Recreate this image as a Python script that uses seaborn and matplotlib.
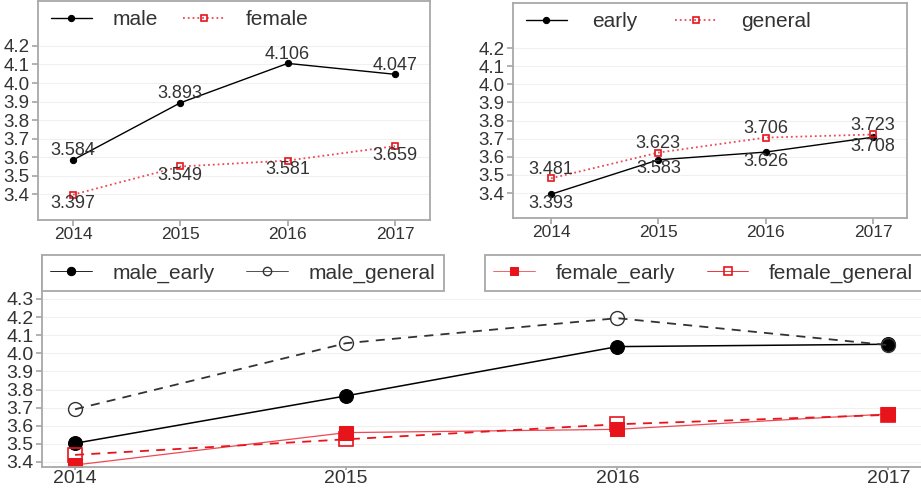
import matplotlib
matplotlib.use("Agg")
import matplotlib.pyplot as plt
import seaborn as sns
import copy

sns.set_theme(style="white")
plt.rcParams['font.family'] = ['Liberation Sans', 'DejaVu Sans']

years = [2014, 2015, 2016, 2017]
male = [3.584, 3.893, 4.106, 4.047]
female = [3.397, 3.549, 3.581, 3.659]
early = [3.393, 3.583, 3.626, 3.708]
general = [3.481, 3.623, 3.706, 3.723]
male_early = [3.503, 3.765, 4.037, 4.050]
male_general = [3.691, 4.056, 4.194, 4.045]
female_early = [3.383, 3.562, 3.580, 3.665]
female_general = [3.439, 3.525, 3.608, 3.660]
top_yticks = [3.4, 3.5, 3.6, 3.7, 3.8, 3.9, 4.0, 4.1, 4.2]
bot_yticks = [3.4, 3.5, 3.6, 3.7, 3.8, 3.9, 4.0, 4.1, 4.2, 4.3]

RED = '#e8141c'
RED_LINE = '#ec4a55'
GRAY = '#a8a8a8'
TXT = '#333333'

fig = plt.figure(figsize=(9.21, 4.93), dpi=100)
ax1 = fig.add_axes([38/921, 1-220/493, 392/921, 219/493])
ax2 = fig.add_axes([513/921, 1-218/493, 394/921, 215/493])
ax3 = fig.add_axes([42/921, 1-467/493, 879/921, 212/493])


def style_axes(ax, xlim, ylim, yticks, xfs, yfs, xlen, xpad, right_spine=True):
    ax.set_xlim(*xlim)
    ax.set_ylim(*ylim)
    ax.set_xticks(years)
    ax.set_xticklabels([str(y) for y in years], fontsize=xfs, color=TXT)
    ax.set_yticks(yticks)
    ax.set_yticklabels([f"{v:.1f}" for v in yticks], fontsize=yfs, color=TXT)
    ax.grid(axis='y', color='#f0f0f0', linewidth=0.8)
    ax.grid(axis='x', visible=False)
    for s in ax.spines.values():
        s.set_color(GRAY)
        s.set_linewidth(1.3)
    if not right_spine:
        ax.spines['right'].set_visible(False)
        ax.spines['top'].set_visible(False)
    ax.tick_params(axis='y', direction='out', length=4, color=GRAY, pad=2, left=True)
    ax.tick_params(axis='x', direction='out', length=xlen, color=GRAY, pad=xpad, bottom=True)
    ax.set_xlabel('')
    ax.set_ylabel('')


def label_points(ax, vals, above):
    for x, v in zip(years, vals):
        ax.annotate(f"{v:.3f}", (x, v), xytext=(0, 6.5 if above else -6.5),
                    textcoords='offset points', ha='center', va='center',
                    fontsize=13, color=TXT)


# ---- top-left
sns.lineplot(x=years, y=male, ax=ax1, color='black', linewidth=1.0, marker='o',
             markersize=4.5, markeredgecolor='black', label='male')
sns.lineplot(x=years, y=female, ax=ax1, color=RED_LINE, linewidth=1.3, linestyle=':',
             marker='s', markersize=4.5, markerfacecolor='none', markeredgecolor=RED,
             markeredgewidth=1.2, label='female')
label_points(ax1, male, True)
label_points(ax1, female, False)
style_axes(ax1, (2013.674, 2017.326), (3.26, 4.443), top_yticks, 12.5, 13.5, 4, 1)
ax1.legend(loc='upper left', bbox_to_anchor=(0.0, 1.015), ncol=2, frameon=False,
           fontsize=15, handlelength=2.0, handletextpad=1.0, columnspacing=1.2,
           borderaxespad=0.2, labelcolor=TXT)

# ---- top-right
sns.lineplot(x=years, y=early, ax=ax2, color='black', linewidth=1.0, marker='o',
             markersize=4.5, markeredgecolor='black', label='early')
sns.lineplot(x=years, y=general, ax=ax2, color=RED_LINE, linewidth=1.3, linestyle=':',
             marker='s', markersize=4.5, markerfacecolor='none', markeredgecolor=RED,
             markeredgewidth=1.2, label='general')
label_points(ax2, general, True)
label_points(ax2, early, False)
style_axes(ax2, (2013.646, 2017.317), (3.262, 4.449), top_yticks, 12.5, 13.5, 4, 1)
ax2.legend(loc='upper left', bbox_to_anchor=(0.0, 1.015), ncol=2, frameon=False,
           fontsize=15, handlelength=2.0, handletextpad=1.2, columnspacing=1.8,
           borderaxespad=0.2, labelcolor=TXT)

# ---- bottom
sns.lineplot(x=years, y=male_early, ax=ax3, color='black', linewidth=1.1, marker='o',
             markersize=10, markeredgecolor='black', label='male_early')
sns.lineplot(x=years, y=male_general, ax=ax3, color='#333333', linewidth=1.3,
             linestyle=(0, (5, 4)), marker='o', markersize=10, markerfacecolor='none',
             markeredgecolor='#333333', markeredgewidth=1.0, label='male_general')
sns.lineplot(x=years, y=female_early, ax=ax3, color=RED_LINE, linewidth=0.9, marker='s',
             markersize=10, markerfacecolor=RED, markeredgecolor=RED, label='female_early')
sns.lineplot(x=years, y=female_general, ax=ax3, color=RED, linewidth=1.3,
             linestyle=(0, (5, 4)), marker='s', markersize=10, markerfacecolor='none',
             markeredgecolor=RED, markeredgewidth=1.2, label='female_general')
style_axes(ax3, (2013.878, 2017.12), (3.372, 4.543), bot_yticks, 14, 14, 2, 0,
           right_spine=False)
handles, labels = ax3.get_legend_handles_labels()
ax3.get_legend().remove()


def small(h, ms):
    h2 = copy.copy(h)
    h2.set_markersize(ms)
    h2.set_linestyle('-')
    h2.set_linewidth(0.6)
    return h2


hs = [small(h, 6) for h in handles]
leg_kw = dict(ncol=2, fontsize=15, handlelength=2.0, handletextpad=1.0,
              columnspacing=1.5, fancybox=False, edgecolor=GRAY, framealpha=1,
              borderpad=0.4, borderaxespad=0.0, labelcolor=TXT, loc='upper left')
legA = fig.legend(hs[:2], labels[:2], bbox_to_anchor=(42/921, 1-255/493), **leg_kw)
legB = fig.legend(hs[2:], labels[2:], bbox_to_anchor=(485/921, 1-255/493), **leg_kw)
for lg in (legA, legB):
    lg.get_frame().set_linewidth(1.3)

fig.savefig('out.png', dpi=100)
